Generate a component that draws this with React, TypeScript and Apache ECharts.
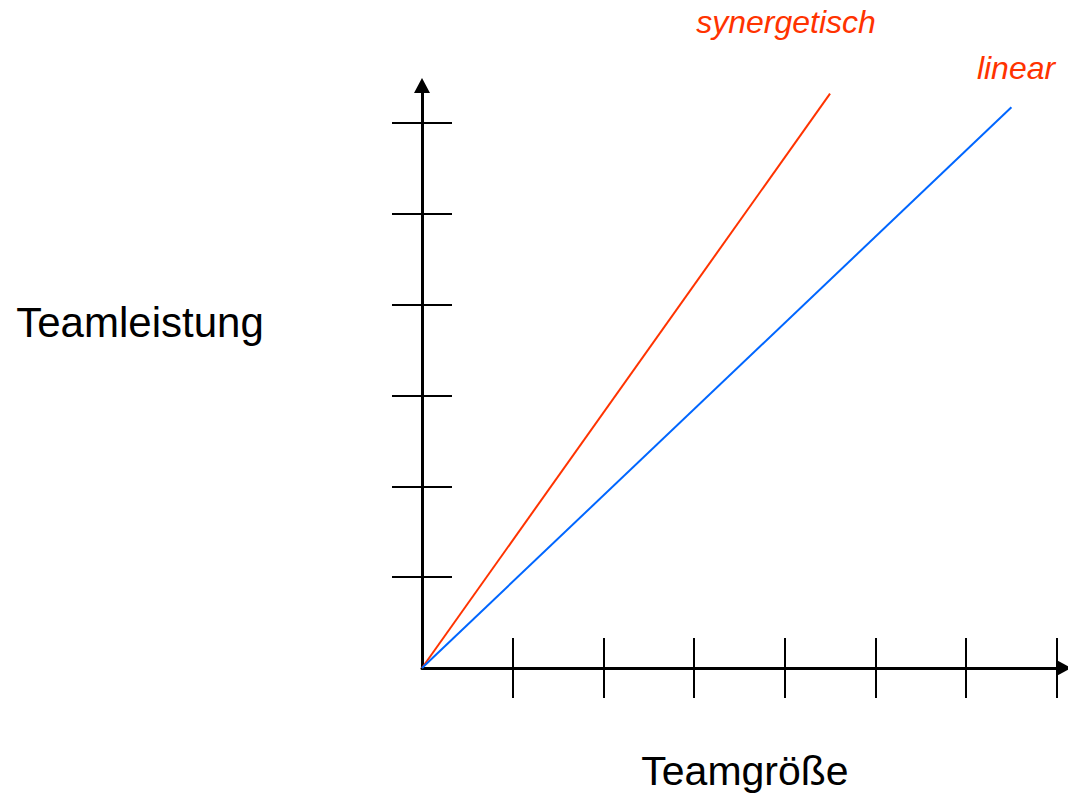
import React, { useEffect, useRef } from "react";
import * as echarts from "echarts";

const xTicks = [1, 2, 3, 4, 5, 6, 7];
const yTicks = [1, 2, 3, 4, 5, 6];
const synergetisch = [[0, 0], [4.5, 6.32]];
const linear = [[0, 0], [6.5, 6.17]];
const xName = "Teamgröße";
const yName = "Teamleistung";
const labelSyn = "synergetisch";
const labelLin = "linear";

const FONT = "'Liberation Sans', Arial, sans-serif";
const RED = "#FF3300";
const BLUE = "#0066FF";

export default function App() {
  const ref = useRef<HTMLDivElement>(null);
  useEffect(() => {
    if (!ref.current) return;
    const chart = echarts.init(ref.current, null, { renderer: "svg" });
    const axisBase = (min: number, max: number) => ({
      type: "value",
      min,
      max,
      splitLine: { show: false },
      axisLabel: { show: false },
    });
    const tick = (vals: number[], inside: boolean) => ({
      show: true,
      inside,
      length: 30,
      customValues: vals,
      lineStyle: { color: "#000", width: 2 },
    });
    chart.setOption({
      animation: false,
      backgroundColor: "#fff",
      grid: { left: 422, right: 4, top: 85.5, bottom: 127 },
      xAxis: [
        {
          ...axisBase(0, 7.08),
          axisLine: {
            show: true,
            onZero: false,
            symbol: ["none", "triangle"],
            symbolSize: [16, 15],
            lineStyle: { color: "#000", width: 3 },
          },
          axisTick: tick(xTicks, true),
        },
        {
          ...axisBase(0, 7.08),
          position: "bottom",
          axisLine: { show: false },
          axisTick: tick(xTicks, false),
        },
      ],
      yAxis: [
        {
          ...axisBase(0, 6.41),
          axisLine: {
            show: true,
            onZero: false,
            symbol: ["none", "triangle"],
            symbolSize: [16, 15],
            lineStyle: { color: "#000", width: 3 },
          },
          axisTick: tick(yTicks, true),
        },
        {
          ...axisBase(0, 6.41),
          position: "left",
          axisLine: { show: false },
          axisTick: tick(yTicks, false),
        },
      ],
      series: [
        {
          type: "line",
          data: synergetisch,
          symbol: "none",
          lineStyle: { color: RED, width: 2 },
          z: 3,
        },
        {
          type: "line",
          data: linear,
          symbol: "none",
          lineStyle: { color: BLUE, width: 2 },
          z: 3,
        },
      ],
      graphic: [
        {
          type: "text",
          x: 140,
          y: 322,
          style: { text: yName, font: `42px ${FONT}`, fill: "#000", textAlign: "center", textVerticalAlign: "middle" },
        },
        {
          type: "text",
          x: 745,
          y: 771,
          style: { text: xName, font: `41px ${FONT}`, fill: "#000", textAlign: "center", textVerticalAlign: "middle" },
        },
        {
          type: "text",
          x: 786,
          y: 22,
          style: { text: labelSyn, font: `italic 32px ${FONT}`, fill: RED, textAlign: "center", textVerticalAlign: "middle" },
        },
        {
          type: "text",
          x: 1016,
          y: 68,
          style: { text: labelLin, font: `italic 32px ${FONT}`, fill: RED, textAlign: "center", textVerticalAlign: "middle" },
        },
      ],
    });
    return () => chart.dispose();
  }, []);
  return (
    <div
      ref={ref}
      style={{ position: "fixed", left: 0, top: 0, width: 1068, height: 795 }}
    />
  );
}
